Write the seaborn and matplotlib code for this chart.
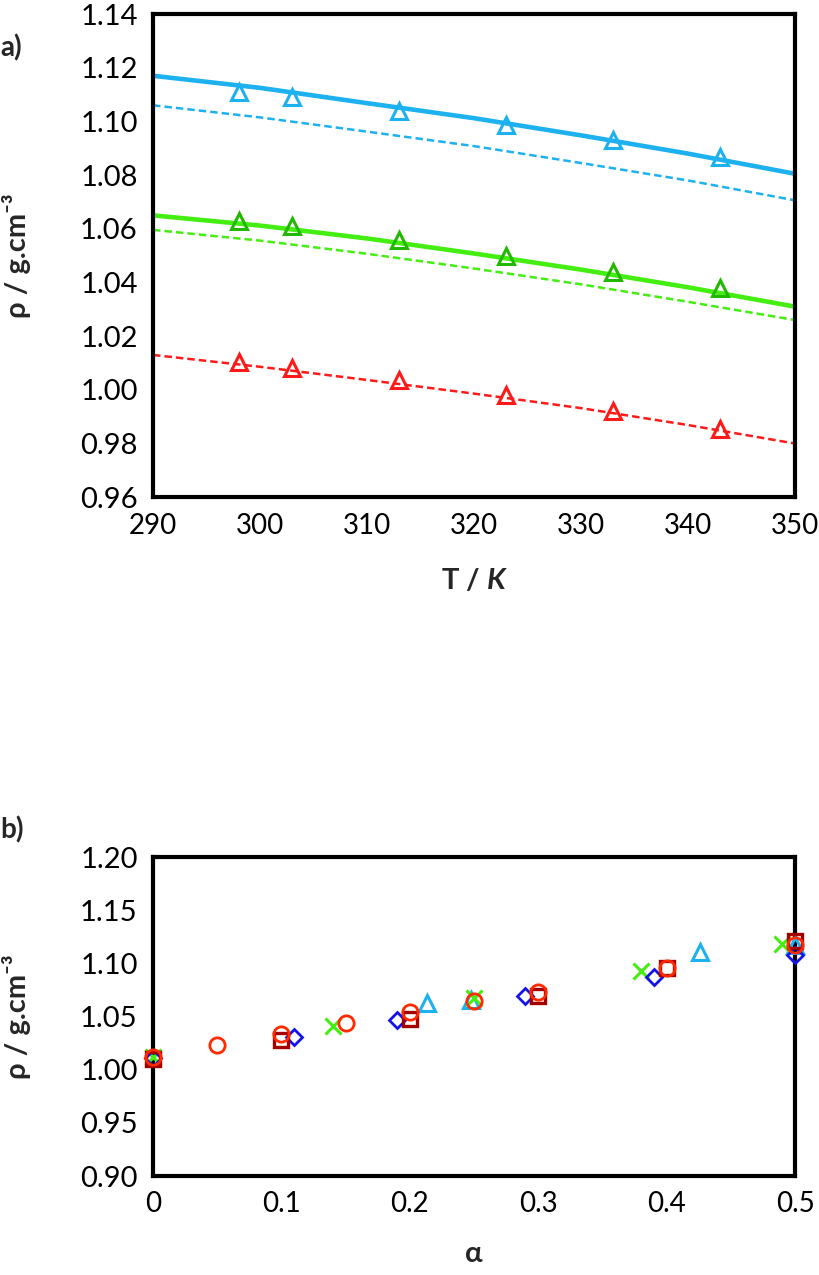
import numpy as np
import pandas as pd
import matplotlib
matplotlib.use("Agg")
import matplotlib.pyplot as plt
import seaborn as sns

# ---- panel a) density vs temperature ----
T_exp = [298, 303, 313, 323, 333, 343]
rho_exp_blue = [1.111, 1.109, 1.104, 1.0985, 1.093, 1.0866]
rho_exp_green = [1.063, 1.061, 1.056, 1.050, 1.044, 1.038]
rho_exp_red = [1.0105, 1.0083, 1.0035, 0.998, 0.992, 0.9855]

T_fit = [290, 300, 310, 320, 330, 340, 350]
rho_fit_blue = [1.117, 1.1125, 1.1068, 1.1012, 1.0948, 1.0880, 1.0805]
rho_calc_blue = [1.106, 1.1015, 1.0962, 1.0908, 1.0845, 1.0780, 1.0706]
rho_fit_green = [1.065, 1.0612, 1.0564, 1.0508, 1.0448, 1.0382, 1.031]
rho_calc_green = [1.0596, 1.0556, 1.0507, 1.0452, 1.0393, 1.0328, 1.026]
rho_calc_red = [1.013, 1.0086, 1.0037, 0.9986, 0.9932, 0.9869, 0.980]

top_xticks = [290, 300, 310, 320, 330, 340, 350]
top_yticks = [0.96, 0.98, 1.00, 1.02, 1.04, 1.06, 1.08, 1.10, 1.12, 1.14]

# ---- panel b) density vs loading ----
alpha_circle = [0.0, 0.05, 0.1, 0.15, 0.2, 0.25, 0.3, 0.4, 0.5]
rho_circle = [1.012, 1.023, 1.034, 1.044, 1.054, 1.0645, 1.0735, 1.0953, 1.117]
alpha_square = [0.0, 0.1, 0.2, 0.3, 0.4, 0.5]
rho_square = [1.010, 1.028, 1.048, 1.0695, 1.0955, 1.121]
alpha_diamond = [0.0, 0.11, 0.19, 0.29, 0.39, 0.5]
rho_diamond = [1.011, 1.031, 1.047, 1.069, 1.087, 1.108]
alpha_cross = [0.0, 0.14, 0.25, 0.38, 0.49]
rho_cross = [1.012, 1.041, 1.067, 1.093, 1.118]
alpha_tri = [0.213, 0.248, 0.426, 0.5]
rho_tri = [1.063, 1.066, 1.111, 1.117]

bot_xticks = [0, 0.1, 0.2, 0.3, 0.4, 0.5]
bot_xlabels = ["0", "0.1", "0.2", "0.3", "0.4", "0.5"]
bot_yticks = [0.90, 0.95, 1.00, 1.05, 1.10, 1.15, 1.20]

sky = "#1DB1F0"
lime = "#44EE11"
green_mk = "#22B800"
red = "#FF1A1A"
orange_red = "#FF2A00"
dark_red = "#A50000"
blue = "#1414E6"

sns.set_style("white")
plt.rcParams["font.family"] = ["Lato", "DejaVu Sans"]
plt.rcParams["mathtext.fontset"] = "custom"
plt.rcParams["mathtext.it"] = "Lato:bold:italic"
plt.rcParams["mathtext.rm"] = "Lato:bold"

fig = plt.figure(figsize=(8.2, 12.75), dpi=100)
ax1 = fig.add_axes([0.1866, 0.610, 0.7830, 0.379])
ax2 = fig.add_axes([0.1866, 0.0776, 0.7830, 0.2502])


def style_axes(ax):
    for sp in ax.spines.values():
        sp.set_linewidth(3)
        sp.set_color("black")
        sp.set_visible(True)
    ax.tick_params(direction="in", length=7, width=1.6, labelsize=21,
                   pad=11, colors="black")
    ax.tick_params(axis="x", labelsize=20)


def markers(ax, x, y, marker, color, size=10, mew=2.0):
    sns.lineplot(x=x, y=y, ax=ax, marker=marker, linestyle="", estimator=None,
                 markersize=size, markerfacecolor="none", markeredgecolor=color,
                 markeredgewidth=mew, color=color, clip_on=False, zorder=5)


# panel a
sns.lineplot(x=T_fit, y=rho_fit_blue, ax=ax1, color=sky, linewidth=3.3, estimator=None)
sns.lineplot(x=T_fit, y=rho_calc_blue, ax=ax1, color=sky, linewidth=1.8,
             linestyle=(0, (3, 1.6)), estimator=None)
sns.lineplot(x=T_fit, y=rho_fit_green, ax=ax1, color=lime, linewidth=3.3, estimator=None)
sns.lineplot(x=T_fit, y=rho_calc_green, ax=ax1, color=lime, linewidth=1.8,
             linestyle=(0, (3, 1.6)), estimator=None)
sns.lineplot(x=T_fit, y=rho_calc_red, ax=ax1, color=red, linewidth=1.8,
             linestyle=(0, (3, 1.6)), estimator=None)
markers(ax1, T_exp, rho_exp_blue, "^", sky, size=11, mew=2.2)
markers(ax1, T_exp, rho_exp_green, "^", green_mk, size=11, mew=2.2)
markers(ax1, T_exp, rho_exp_red, "^", red, size=11, mew=2.2)

ax1.set_xlim(290, 350)
ax1.set_ylim(0.96, 1.14)
ax1.set_xticks(top_xticks)
ax1.set_yticks(top_yticks)
ax1.set_xticklabels([str(t) for t in top_xticks])
ax1.set_yticklabels([f"{v:.2f}" for v in top_yticks])
style_axes(ax1)
ax1.set_xlabel(r"T / $K$", fontsize=21, fontweight="bold")
ax1.set_ylabel("ρ / g.cm⁻³", fontsize=21, fontweight="bold")
ax1.xaxis.set_label_coords(0.5, -0.145)
ax1.yaxis.set_label_coords(-0.19, 0.5)

# panel b
markers(ax2, alpha_tri, rho_tri, "^", sky, size=11, mew=2.2)
markers(ax2, alpha_cross, rho_cross, "x", lime, size=11, mew=2.2)
markers(ax2, alpha_diamond, rho_diamond, "D", blue, size=8.5)
markers(ax2, alpha_square, rho_square, "s", dark_red, size=10, mew=2.4)
markers(ax2, alpha_circle, rho_circle, "o", orange_red, size=11)

ax2.set_xlim(0, 0.5)
ax2.set_ylim(0.90, 1.20)
ax2.set_xticks(bot_xticks)
ax2.set_xticklabels(bot_xlabels)
ax2.set_yticks(bot_yticks)
ax2.set_yticklabels([f"{v:.2f}" for v in bot_yticks])
style_axes(ax2)
ax2.set_xlabel("α", fontsize=21, fontweight="bold")
ax2.set_ylabel("ρ / g.cm⁻³", fontsize=21, fontweight="bold")
ax2.xaxis.set_label_coords(0.5, -0.205)
ax2.yaxis.set_label_coords(-0.19, 0.5)

fig.text(0.0, 1 - 48 / 1275, "a)", fontsize=20, fontweight="bold", va="center")
fig.text(0.0, 1 - 830 / 1275, "b)", fontsize=20, fontweight="bold", va="center")

fig.savefig("out.png", dpi=100)
